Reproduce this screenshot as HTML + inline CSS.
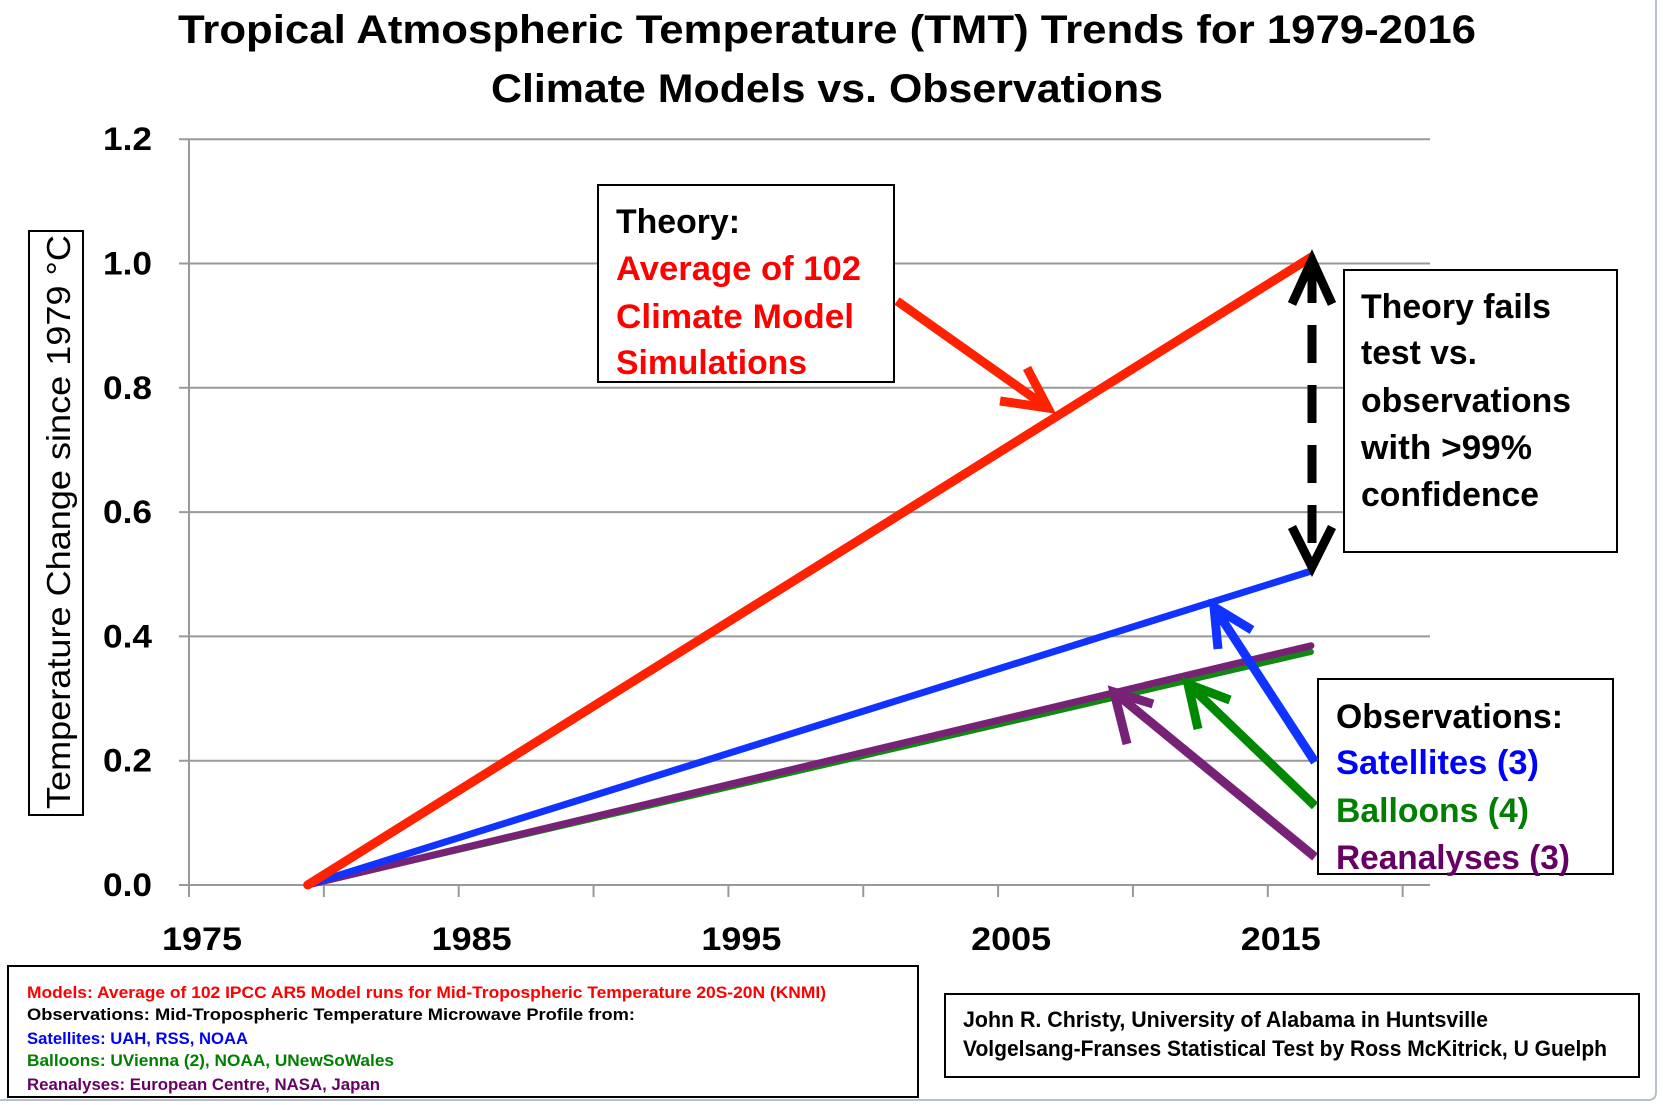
<!DOCTYPE html>
<html><head><meta charset="utf-8"><style>
html,body{margin:0;padding:0;background:#fff;}
svg{display:block;font-family:"Liberation Sans",sans-serif;font-weight:bold;}
</style></head><body>
<svg id="chart" width="1663" height="1105" viewBox="0 0 1663 1105" xmlns="http://www.w3.org/2000/svg">
<rect x="0" y="0" width="1663" height="1105" fill="#fff"/>
<path d="M1656 0 V1092 Q1656 1100 1648 1100 H0" fill="none" stroke="#b8c0cc" stroke-width="2"/>
<text x="827" y="43" text-anchor="middle" font-size="40" textLength="1298" lengthAdjust="spacingAndGlyphs">Tropical Atmospheric Temperature (TMT) Trends for 1979-2016</text>
<text x="827" y="102" text-anchor="middle" font-size="40" textLength="672" lengthAdjust="spacingAndGlyphs">Climate Models vs. Observations</text>
<g id="grid"></g>
<g id="axes"></g>
<g id="series"></g>
<rect x="29" y="231" width="54" height="584" fill="#fff" stroke="#000" stroke-width="2"/>
<text transform="translate(70,522) rotate(-90)" text-anchor="middle" font-size="33" font-weight="normal" textLength="574" lengthAdjust="spacingAndGlyphs">Temperature Change since 1979 °C</text>

<g>
<rect x="598" y="185" width="296" height="197" fill="#fff" stroke="#000" stroke-width="2"/>
<text x="616" y="233" font-size="34" textLength="124" lengthAdjust="spacingAndGlyphs">Theory:</text>
<text x="616" y="280" font-size="34" fill="#ff0000" textLength="245" lengthAdjust="spacingAndGlyphs">Average of 102</text>
<text x="616" y="328" font-size="34" fill="#ff0000" textLength="238" lengthAdjust="spacingAndGlyphs">Climate Model</text>
<text x="616" y="374" font-size="34" fill="#ff0000" textLength="191" lengthAdjust="spacingAndGlyphs">Simulations</text>
</g>
<g>
<rect x="1344" y="270" width="273" height="282" fill="#fff" stroke="#000" stroke-width="2"/>
<text x="1361" y="318" font-size="34" textLength="190" lengthAdjust="spacingAndGlyphs">Theory fails</text>
<text x="1361" y="364" font-size="34" textLength="116" lengthAdjust="spacingAndGlyphs">test vs.</text>
<text x="1361" y="412" font-size="34" textLength="210" lengthAdjust="spacingAndGlyphs">observations</text>
<text x="1361" y="459" font-size="34" textLength="171" lengthAdjust="spacingAndGlyphs">with &gt;99%</text>
<text x="1361" y="506" font-size="34" textLength="178" lengthAdjust="spacingAndGlyphs">confidence</text>
</g>
<g>
<rect x="1318" y="679" width="295" height="195" fill="#fff" stroke="#000" stroke-width="2"/>
<text x="1336" y="728" font-size="34" textLength="227" lengthAdjust="spacingAndGlyphs">Observations:</text>
<text x="1336" y="774" font-size="34" fill="#0000ff" textLength="203" lengthAdjust="spacingAndGlyphs">Satellites (3)</text>
<text x="1336" y="822" font-size="34" fill="#007f00" textLength="193" lengthAdjust="spacingAndGlyphs">Balloons (4)</text>
<text x="1336" y="869" font-size="34" fill="#660066" textLength="234" lengthAdjust="spacingAndGlyphs">Reanalyses (3)</text>
</g>

<g stroke-width="9" stroke-linecap="butt" fill="none">
<path d="M897 301 L1048 408 M1027 368 L1048 408 L1000 401" stroke="#ff2200"/>
<path d="M1315 762 L1214 607 M1218 649 L1214 607 L1252 630" stroke="#1133ff"/>
<path d="M1315 806 L1188 684 M1198 729 L1188 684 L1230 700" stroke="#008800"/>
<path d="M1315 857 L1114 692 M1127 744 L1114 692 L1153 704" stroke="#772277"/>
</g>
<g stroke="#000" stroke-width="9" fill="none">
<line x1="1312" y1="265" x2="1312" y2="562" stroke-dasharray="38,22"/>
<path d="M1292 304 L1312 260 L1332 304 M1292 527 L1312 567 L1332 527"/>
</g>

<g>
<rect x="8" y="966" width="910" height="131" fill="#fff" stroke="#000" stroke-width="2"/>
<text x="27" y="998" font-size="17" fill="#ff0000" textLength="799" lengthAdjust="spacingAndGlyphs">Models: Average of 102 IPCC AR5 Model runs for Mid-Tropospheric Temperature 20S-20N (KNMI)</text>
<text x="27" y="1020" font-size="17" textLength="608" lengthAdjust="spacingAndGlyphs">Observations: Mid-Tropospheric Temperature Microwave Profile from:</text>
<text x="27" y="1044" font-size="17" fill="#0000ff" textLength="221" lengthAdjust="spacingAndGlyphs">Satellites: UAH, RSS, NOAA</text>
<text x="27" y="1066" font-size="17" fill="#007f00" textLength="367" lengthAdjust="spacingAndGlyphs">Balloons: UVienna (2), NOAA, UNewSoWales</text>
<text x="27" y="1090" font-size="17" fill="#660066" textLength="353" lengthAdjust="spacingAndGlyphs">Reanalyses: European Centre, NASA, Japan</text>
</g>
<g>
<rect x="945" y="994" width="694" height="83" fill="#fff" stroke="#000" stroke-width="2"/>
<text x="963" y="1027" font-size="22" textLength="525" lengthAdjust="spacingAndGlyphs">John R. Christy, University of Alabama in Huntsville</text>
<text x="963" y="1056" font-size="22" textLength="644" lengthAdjust="spacingAndGlyphs">Volgelsang-Franses Statistical Test by Ross McKitrick, U Guelph</text>
</g>
</svg>
<script>
const years = [1979.4, 2016.6];
const models = [0, 1.01];
const satellites = [0, 0.505];
const balloons = [0, 0.375];
const reanalyses = [0, 0.385];
const yTicks = [0, 0.2, 0.4, 0.6, 0.8, 1.0, 1.2];
const yTickLabels = ["0.0", "0.2", "0.4", "0.6", "0.8", "1.0", "1.2"];
const xTicks = [1975, 1980, 1985, 1990, 1995, 2000, 2005, 2010, 2015, 2020];
const xTickLabels = ["1975", "1985", "1995", "2005", "2015"];
const xLabelYears = [1975, 1985, 1995, 2005, 2015];

const NS = "http://www.w3.org/2000/svg";
const X0 = 189, Y0 = 885, PXY = 26.97, PXV = 621.5, XEND = 1430;
function xs(y){ return X0 + (y - 1975) * PXY; }
function ys(v){ return Y0 - v * PXV; }
function mk(tag, attrs, parent){
  const e = document.createElementNS(NS, tag);
  for (const k in attrs) e.setAttribute(k, attrs[k]);
  parent.appendChild(e); return e;
}
const grid = document.getElementById('grid');
const axes = document.getElementById('axes');
const series = document.getElementById('series');
yTicks.forEach((v, i) => {
  const l = mk('line', {x1: X0 - 10, x2: XEND, y1: ys(v), y2: ys(v), stroke: '#999', 'stroke-width': 2}, grid);
  
  
  const t = mk('text', {x: 152, y: ys(v) + 11, 'text-anchor': 'end', 'font-size': 32, textLength: 49, lengthAdjust: 'spacingAndGlyphs'}, axes);
  t.textContent = yTickLabels[i];
  
  
});
const ya = mk('line', {x1: X0, x2: X0, y1: ys(1.2), y2: Y0 + 10, stroke: '#999', 'stroke-width': 2}, axes);


xTicks.forEach(yr => {
  const l = mk('line', {x1: xs(yr), x2: xs(yr), y1: Y0, y2: Y0 + 12, stroke: '#999', 'stroke-width': 2}, axes);
  
  
});
xLabelYears.forEach((yr, i) => {
  const t = mk('text', {x: xs(yr) + 13, y: 950, 'text-anchor': 'middle', 'font-size': 32, textLength: 80, lengthAdjust: 'spacingAndGlyphs'}, axes);
  t.textContent = xTickLabels[i];
  
  
});
function draw(vals, color, w, name){
  const d = vals.map((v, i) => (i ? 'L' : 'M') + xs(years[i]) + ' ' + ys(v)).join(' ');
  const p = mk('path', {d: d, fill: 'none', stroke: color, 'stroke-width': w, 'stroke-linecap': 'round'}, series);
  
  
}
draw(balloons, '#118811', 6, 'balloons-line');
draw(reanalyses, '#772277', 7, 'reanalyses-line');
draw(satellites, '#1133ff', 7, 'satellites-line');
draw(models, '#ff2200', 9, 'models-line');
</script>
</body></html>
